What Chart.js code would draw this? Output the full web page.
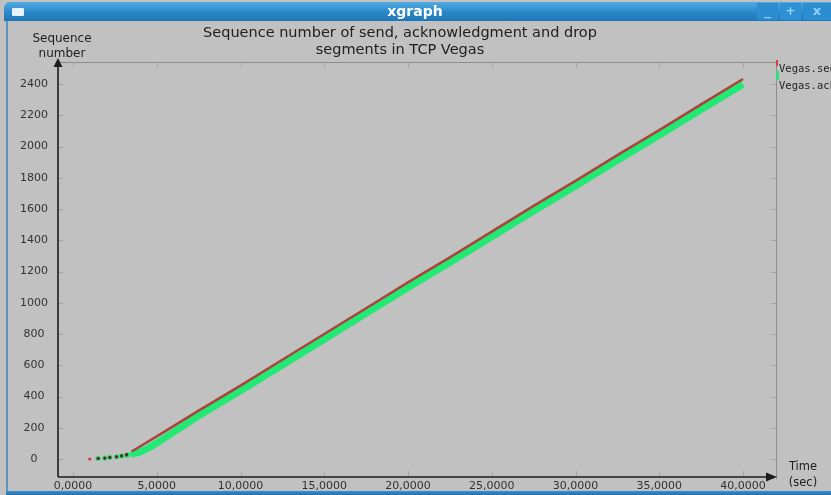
<!DOCTYPE html>
<html>
<head>
<meta charset="utf-8">
<script src="https://cdn.jsdelivr.net/npm/chart.js@4.4.1/dist/chart.umd.min.js"></script>
<style>
  html, body { margin: 0; padding: 0; background: #c1c1c1; }
  #win { position: relative; width: 831px; height: 495px; background: #c1c1c1; overflow: hidden;
         font-family: "DejaVu Sans", "Liberation Sans", sans-serif; color: #222; }
  #chart { position: absolute; left: 0; top: 0; }
  #bar { position: absolute; left: 4px; top: 2px; width: 830px; height: 19px;
         background: linear-gradient(#52aae2, #2a88c9 55%, #1f76b6);
         border-top-left-radius: 6px; z-index: 2; }
  #bar .icon { position: absolute; left: 8px; top: 6px; width: 12px; height: 8px; background: #e6f1fa; border-radius: 1px; }
  #bar .name { position: absolute; left: 0; width: 822px; top: 1px; text-align: center;
               font: bold 14px "DejaVu Sans", sans-serif; color: #fff; }
  #bar .btn { position: absolute; top: 1px; height: 17px; width: 21px; background: #2c8dd0;
              color: #8fd0f4; font: bold 13px "DejaVu Sans", sans-serif; text-align: center; line-height: 16px; }
  #lborder { position: absolute; left: 6px; top: 21px; width: 2px; height: 472px; background: #5e93bb; }
  #bborder { position: absolute; left: 6px; top: 491px; width: 830px; height: 4px;
             background: linear-gradient(#3d8fcc, #236fae); }
  .txt { position: absolute; white-space: nowrap; color: #202020; }
  #title { left: 0; width: 800px; top: 24px; text-align: center; font-size: 14.5px; line-height: 17px; }
  #ylab { left: 22px; width: 80px; top: 31px; text-align: center; font-size: 12px; line-height: 15px; }
  #xlab { left: 783px; width: 40px; top: 458px; text-align: center; font-size: 11.5px; line-height: 16px; }
  #legend { left: 779px; top: 60px; font: 10.5px "DejaVu Sans Mono", monospace; line-height: 17px; color: #222; }
  .mark { position: absolute; }
</style>
</head>
<body>
<div id="win">
  <canvas id="chart" width="831" height="495"></canvas>
  <div id="bar">
    <div class="icon"></div>
    <div class="name">xgraph</div>
    <div class="btn" style="left:753px">_</div>
    <div class="btn" style="left:776px;background:#2f91d3">+</div>
    <div class="btn" style="left:799px;width:28px">x</div>
  </div>
  <div id="lborder"></div>
  <div id="bborder"></div>
  <div class="txt" id="title">Sequence number of send, acknowledgment and drop<br>segments in TCP Vegas</div>
  <div class="txt" id="ylab">Sequence<br>number</div>
  <div class="txt" id="xlab">Time<br>(sec)</div>
  <div class="txt" id="legend">Vegas.seq<br>Vegas.ack</div>
  <div class="mark" style="left:776px;top:60px;width:2px;height:6px;background:#d84040"></div>
  <div class="mark" style="left:776px;top:71px;width:3px;height:9px;background:#2fe07a"></div>
</div>
<script>
// Sent segments: time (s) and sequence number
const sendTime = [1.0, 1.5, 1.9, 2.2, 2.6, 2.9, 3.2, 3.5, 4.0, 5.0, 7.5, 10, 12.5, 15, 17.5, 20, 22.5, 25, 27.5, 30, 32.5, 35, 37.5, 40];
const sendSeq  = [0, 4, 6, 10, 14, 20, 30, 48, 80, 145, 310, 470, 635, 800, 965, 1130, 1290, 1455, 1620, 1780, 1945, 2105, 2270, 2432];

// Acknowledged segments: time (s) and sequence number
const ackTime = [1.5, 1.9, 2.2, 2.6, 2.9, 3.2, 3.5, 4.0, 4.5, 5.0, 6.0, 7.5, 10, 12.5, 15, 17.5, 20, 22.5, 25, 27.5, 30, 32.5, 35, 37.5, 40];
const ackSeq  = [4, 6, 10, 14, 20, 24, 30, 45, 70, 102, 172, 277, 437, 602, 767, 932, 1097, 1257, 1422, 1587, 1747, 1912, 2072, 2237, 2399];

// Axis ticks
const xTicks = [0, 5, 10, 15, 20, 25, 30, 35, 40];
const yTicks = [0, 200, 400, 600, 800, 1000, 1200, 1400, 1600, 1800, 2000, 2200, 2400];

const toPoints = (xs, ys) => xs.map((x, i) => ({ x: x, y: ys[i] }));
const EARLY = 3.3;

// Frame: arrowed left/bottom axes, grey top/right borders and short inward tick marks
const framePlugin = {
  id: 'frame',
  afterDraw(chart) {
    const { ctx, chartArea: a, scales: { x, y } } = chart;
    ctx.save();
    // top and right borders
    ctx.strokeStyle = '#8c8c8c';
    ctx.lineWidth = 1;
    ctx.beginPath();
    ctx.moveTo(a.left, a.top + 0.5); ctx.lineTo(a.right, a.top + 0.5);
    ctx.moveTo(a.right + 0.5, a.top - 2); ctx.lineTo(a.right + 0.5, a.bottom + 2);
    ctx.stroke();
    // tick marks
    ctx.strokeStyle = '#a2a2a2';
    ctx.beginPath();
    yTicks.forEach(v => {
      const py = Math.round(y.getPixelForValue(v)) + 0.5;
      ctx.moveTo(a.left, py); ctx.lineTo(a.left + 5, py);
      ctx.moveTo(a.right - 5, py); ctx.lineTo(a.right, py);
    });
    xTicks.forEach(v => {
      const px = Math.round(x.getPixelForValue(v)) + 0.5;
      ctx.moveTo(px, a.bottom); ctx.lineTo(px, a.bottom - 6);
      ctx.moveTo(px, a.top); ctx.lineTo(px, a.top + 5);
    });
    ctx.stroke();
    // main axes
    ctx.strokeStyle = '#1c1c1c';
    ctx.fillStyle = '#1c1c1c';
    ctx.lineWidth = 1.6;
    ctx.beginPath();
    ctx.moveTo(a.left, a.bottom); ctx.lineTo(a.left, a.top + 4);
    ctx.moveTo(a.left, a.bottom); ctx.lineTo(a.right - 8, a.bottom);
    ctx.stroke();
    ctx.beginPath();
    ctx.moveTo(a.left, a.top - 4); ctx.lineTo(a.left - 4.5, a.top + 5); ctx.lineTo(a.left + 4.5, a.top + 5); ctx.closePath();
    ctx.fill();
    ctx.beginPath();
    ctx.moveTo(a.right + 1, a.bottom); ctx.lineTo(a.right - 10, a.bottom - 4.5); ctx.lineTo(a.right - 10, a.bottom + 4.5); ctx.closePath();
    ctx.fill();
    ctx.restore();
  }
};

new Chart(document.getElementById('chart'), {
  type: 'scatter',
  data: {
    datasets: [
      {
        label: 'Vegas.seq',
        data: toPoints(sendTime, sendSeq),
        showLine: true,
        borderColor: '#a8443a',
        borderWidth: 2.5,
        segment: {
          borderColor: c => c.p0.parsed.x < EARLY ? 'rgba(0,0,0,0)' : '#a8443a'
        },
        pointRadius: c => (c.raw && c.raw.x < EARLY) ? 1.6 : 0,
        pointBackgroundColor: c => (c.raw && c.raw.x < 1.2) ? '#d43a3a' : '#5a2a28',
        pointBorderWidth: 0
      },
      {
        label: 'Vegas.ack',
        data: toPoints(ackTime, ackSeq),
        showLine: true,
        borderColor: '#22e874',
        borderWidth: 7,
        segment: {
          borderColor: c => c.p0.parsed.x < 2.9 ? 'rgba(0,0,0,0)' : '#22e874',
          borderWidth: c => c.p0.parsed.x < 3.4 ? 4 : 7
        },
        pointRadius: c => (c.raw && c.raw.x < EARLY) ? 2 : 0,
        pointBackgroundColor: '#2f4a30',
        pointBorderColor: '#3fdc7c',
        pointBorderWidth: 1.2
      }
    ]
  },
  options: {
    responsive: false,
    devicePixelRatio: 1,
    animation: false,
    layout: { padding: { top: 62, right: 55, bottom: 0, left: 0 } },
    plugins: { legend: { display: false }, tooltip: { enabled: false }, title: { display: false } },
    scales: {
      x: {
        type: 'linear',
        min: -0.896,
        max: 41.97,
        afterFit: s => { s.height = 18; },
        afterBuildTicks: s => { s.ticks = xTicks.map(v => ({ value: v })); },
        grid: { display: false, drawTicks: false },
        border: { display: false },
        ticks: {
          padding: 3,
          color: '#333',
          font: { family: 'DejaVu Sans', size: 11 },
          maxRotation: 0,
          autoSkip: false,
          callback: v => v.toFixed(4).replace('.', ',')
        }
      },
      y: {
        type: 'linear',
        min: -115.2,
        max: 2540.8,
        afterFit: s => { s.width = 58; },
        afterBuildTicks: s => { s.ticks = yTicks.map(v => ({ value: v })); },
        grid: { display: false, drawTicks: false },
        border: { display: false },
        ticks: {
          padding: 10,
          crossAlign: 'center',
          color: '#333',
          font: { family: 'DejaVu Sans', size: 11 },
          autoSkip: false,
          callback: v => String(v)
        }
      }
    }
  },
  plugins: [framePlugin]
});
</script>
</body>
</html>
